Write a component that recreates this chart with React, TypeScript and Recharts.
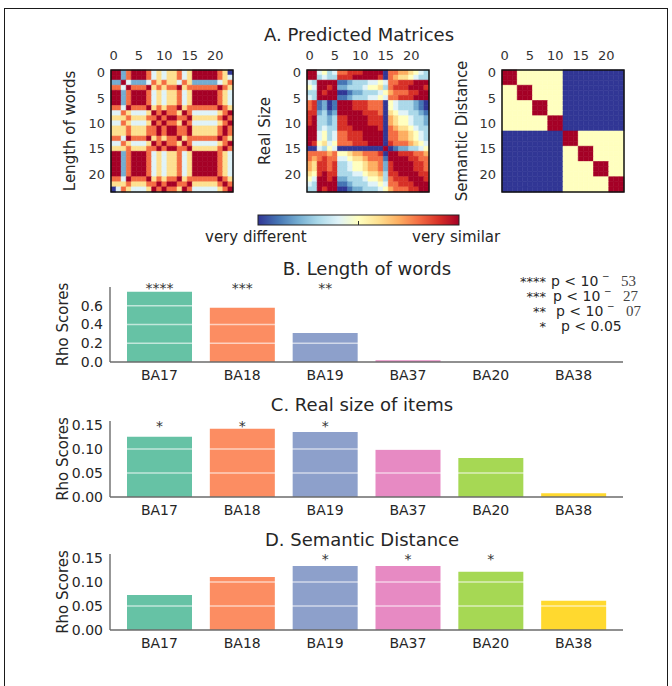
import React from "react";
import { BarChart, Bar, XAxis, YAxis, Cell, LabelList, ReferenceLine } from "recharts";

const FONT = "'DejaVu Sans', 'Liberation Sans', sans-serif";

// ---- bar panels ----
const regions = ["BA17", "BA18", "BA19", "BA37", "BA20", "BA38"];
const lengthScores = [0.75, 0.58, 0.31, 0.018, 0, 0];
const sizeScores = [0.125, 0.142, 0.135, 0.098, 0.081, 0.008];
const semanticScores = [0.073, 0.11, 0.133, 0.133, 0.121, 0.061];
const lengthStars = ["****", "***", "**", "", "", ""];
const sizeStars = ["*", "*", "*", "", "", ""];
const semanticStars = ["", "", "*", "*", "*", ""];
const barColors = ["#66c2a5", "#fc8d62", "#8da0cb", "#e78ac3", "#a6d854", "#ffd92f"];
const lengthTicks = [0, 0.2, 0.4, 0.6];
const smallTicks = [0, 0.05, 0.1, 0.15];

const legendRows = [
  { stars: "****", text: "p < 10", exp: "53" },
  { stars: "***", text: "p < 10", exp: "27" },
  { stars: "**", text: "p < 10", exp: "07" },
  { stars: "*", text: "p < 0.05", exp: "" },
];

// ---- matrices: one char per cell, colour level 0 (very different) .. a (very similar) ----
const matrixTicks = [0, 5, 10, 15, 20];
const levelColors = [
  "#313695", "#4575b4", "#74add1", "#abd9e9", "#e0f3f8", "#ffffbf",
  "#fee090", "#fdae61", "#f46d43", "#d73027", "#a50026",
];

const lengthMatrix = [
  "aa28aaa846466846aaaaa860",
  "aa28aaa846466846aaaaa864",
  "22a422248686648622222468",
  "884a888a68688a6888888a86",
  "aa28aaa846466846aaaaa864",
  "aa28aaa846466846aaaaa864",
  "aa28aaa846466846aaaaa864",
  "884a888a68688a6888888a86",
  "44864446a8a886a84444468a",
  "666866688a8aa88a666668a8",
  "44864446a8a886a84444468a",
  "666866688a8aa88a666668a8",
  "666866688a8aa88a666668a8",
  "884a888a68688a6888888a86",
  "44864446a8a886a84444468a",
  "666866688a8aa88a666668a8",
  "aa28aaa846466846aaaaa864",
  "aa28aaa846466846aaaaa864",
  "aa28aaa846466846aaaaa864",
  "aa28aaa846466846aaaaa864",
  "aa28aaa846466846aaaaa864",
  "884a888a68688a6888888a86",
  "666866688a8aa88a666668a8",
  "04864446a8a886a84444468a",
];

const sizeMatrix = [
  "aa453488999aaaa088776543",
  "aa3433999aaaaa9087665433",
  "43aaaa112333445488999aaa",
  "54aa9a22333455638999aaa9",
  "33a9aa0012233345788899aa",
  "43aaaa112333445488999aaa",
  "891201aaa999888054333210",
  "891201aaa999888054333210",
  "992312aaaaa9998065443321",
  "9a332399aaaa999076554332",
  "9a332399aaaa999076554332",
  "aa3433999aaaaa9087665433",
  "aa453488999aaaa088776543",
  "aa453488999aaaa088776543",
  "a95645888999aaa098887654",
  "004354000000000a01223345",
  "8888785567788890aa999887",
  "8789884456678881aaaa9988",
  "76998933455677829aaaa998",
  "76998933455677829aaaa998",
  "659a99333445667399aaaa99",
  "54aa9a22333455638999aaa9",
  "43aaaa112333445488999aaa",
  "33a9aa0012233345788899aa",
];

const semanticMatrix = [
  "aaa555555555000000000000",
  "aaa555555555000000000000",
  "aaa555555555000000000000",
  "555aaa555555000000000000",
  "555aaa555555000000000000",
  "555aaa555555000000000000",
  "555555aaa555000000000000",
  "555555aaa555000000000000",
  "555555aaa555000000000000",
  "555555555aaa000000000000",
  "555555555aaa000000000000",
  "555555555aaa000000000000",
  "000000000000aaa555555555",
  "000000000000aaa555555555",
  "000000000000aaa555555555",
  "000000000000555aaa555555",
  "000000000000555aaa555555",
  "000000000000555aaa555555",
  "000000000000555555aaa555",
  "000000000000555555aaa555",
  "000000000000555555aaa555",
  "000000000000555555555aaa",
  "000000000000555555555aaa",
  "000000000000555555555aaa",
];

const BOX = 122;
const TOPAX = 26;
const LEFTAX = 40;

function Heatmap({ rows, x, y }: { rows: string[]; x: number; y: number }) {
  const n = rows.length;
  const data = rows[0].split("").map((_, col) => {
    const d: any = { col };
    rows.forEach((_, r) => (d["r" + r] = 1));
    return d;
  });
  const tick = { fontSize: 13, fill: "#333", fontFamily: FONT };
  return (
    <div style={{ position: "absolute", left: x - LEFTAX, top: y - TOPAX }}>
      <BarChart
        width={LEFTAX + BOX + 4}
        height={TOPAX + BOX + 4}
        data={data}
        margin={{ top: 0, right: 4, bottom: 4, left: 0 }}
        barCategoryGap={0}
        barGap={0}
      >
        <XAxis
          dataKey="col"
          orientation="top"
          height={TOPAX}
          interval={0}
          tickLine={false}
          axisLine={false}
          tickSize={0}
          tickMargin={10}
          tick={tick}
          tickFormatter={(v: number) => (v % 5 === 0 ? String(v) : "")}
        />
        <YAxis
          type="number"
          domain={[0, n]}
          reversed
          interval={0}
          ticks={matrixTicks.map((t) => t + 0.5)}
          tickFormatter={(v: number) => String(v - 0.5)}
          width={LEFTAX}
          tickLine={false}
          axisLine={false}
          tickSize={0}
          tickMargin={6}
          tick={tick}
        />
        {rows.map((row, r) => (
          <Bar key={r} dataKey={"r" + r} stackId="m" isAnimationActive={false}>
            {data.map((_, c) => {
              const col = levelColors[parseInt(row[c], 16)];
              return <Cell key={c} fill={col} stroke={col} strokeWidth={0.6} />;
            })}
          </Bar>
        ))}
      </BarChart>
    </div>
  );
}

const PLOT_TOP = 37;

function ScoreChart(props: {
  top: number;
  plotH: number;
  values: number[];
  stars: string[];
  domain: [number, number];
  ticks: number[];
  digits: number;
  whiteLines: number[];
  starDy: number;
}) {
  const data = regions.map((name, i) => ({ name, value: props.values[i], stars: props.stars[i] }));
  const tick = { fontSize: 14, fill: "#262626", fontFamily: FONT };
  const axis = { stroke: "#6b6b6b", strokeWidth: 1.4 };
  return (
    <div style={{ position: "absolute", left: 0, top: props.top - PLOT_TOP }}>
      <BarChart
        width={672}
        height={PLOT_TOP + props.plotH + 30}
        data={data}
        margin={{ top: PLOT_TOP, right: 49, bottom: 0, left: 0 }}
      >
        <XAxis
          dataKey="name"
          interval={0}
          padding={{ left: 8, right: 8 }}
          height={30}
          tickLine={false}
          tickSize={6}
          tickMargin={2}
          axisLine={axis}
          tick={tick}
        />
        <YAxis
          type="number"
          domain={props.domain}
          ticks={props.ticks}
          interval={0}
          tickFormatter={(v: number) => v.toFixed(props.digits)}
          width={110}
          tickLine={false}
          tickSize={5}
          tickMargin={2}
          axisLine={axis}
          tick={tick}
        />
        <Bar dataKey="value" barSize={65} isAnimationActive={false}>
          {data.map((_, i) => (
            <Cell key={i} fill={barColors[i]} />
          ))}
          <LabelList
            dataKey="stars"
            content={(p: any) =>
              p.value ? (
                <text
                  x={Number(p.x) + Number(p.width) / 2}
                  y={PLOT_TOP + props.starDy}
                  textAnchor="middle"
                  fontSize={14}
                  fill="#333"
                  fontFamily={FONT}
                >
                  {p.value}
                </text>
              ) : null
            }
          />
        </Bar>
        {props.whiteLines.map((v) => (
          <ReferenceLine key={v} y={v} stroke="#ffffff" strokeOpacity={0.6} strokeWidth={1.5} />
        ))}
      </BarChart>
    </div>
  );
}

const heatBoxes = [
  { x: 111, y: 70, label: "Length of words", lx: 75 },
  { x: 307, y: 70, label: "Real Size", lx: 270 },
  { x: 502, y: 70, label: "Semantic Distance", lx: 467 },
];

export default function App() {
  const txt = { fontFamily: FONT, fill: "#262626" } as const;
  const legendX = [551, 553, 556, 561];
  const legendY = [286, 301, 316, 331];
  return (
    <div style={{ position: "relative", width: 672, height: 686, background: "#fff", overflow: "hidden" }}>
      <style>{"body{margin:0}"}</style>
      <div
        style={{
          position: "absolute",
          left: 4,
          top: 8,
          width: 664,
          height: 700,
          border: "1.5px solid #1a1a1a",
          boxSizing: "border-box",
        }}
      />
      <Heatmap rows={lengthMatrix} x={heatBoxes[0].x} y={heatBoxes[0].y} />
      <Heatmap rows={sizeMatrix} x={heatBoxes[1].x} y={heatBoxes[1].y} />
      <Heatmap rows={semanticMatrix} x={heatBoxes[2].x} y={heatBoxes[2].y} />

      <ScoreChart top={287} plotH={75} values={lengthScores} stars={lengthStars} domain={[0, 0.8]}
        ticks={lengthTicks} digits={1} whiteLines={[0.2, 0.4, 0.6]} starDy={6} />
      <ScoreChart top={421} plotH={76} values={sizeScores} stars={sizeStars} domain={[0, 0.158]}
        ticks={smallTicks} digits={2} whiteLines={[0.05, 0.1]} starDy={10} />
      <ScoreChart top={554} plotH={76} values={semanticScores} stars={semanticStars} domain={[0, 0.158]}
        ticks={smallTicks} digits={2} whiteLines={[0.05, 0.1]} starDy={10} />

      <svg width={672} height={686} style={{ position: "absolute", left: 0, top: 0, pointerEvents: "none" }}>
        <defs>
          <linearGradient id="cbar" x1="0" x2="1" y1="0" y2="0">
            {levelColors.map((c, i) => (
              <stop key={i} offset={i / (levelColors.length - 1)} stopColor={c} />
            ))}
          </linearGradient>
        </defs>
        <text x={359} y={41} textAnchor="middle" fontSize={18} {...txt}>A. Predicted Matrices</text>
        {heatBoxes.map((b) => (
          <g key={b.label}>
            <rect x={b.x} y={b.y} width={BOX} height={BOX} fill="none" stroke="#111" strokeWidth={1.5} />
            <text
              transform={`translate(${b.lx},${b.y + BOX / 2}) rotate(-90)`}
              textAnchor="middle"
              fontSize={15}
              {...txt}
            >
              {b.label}
            </text>
          </g>
        ))}
        <rect x={258} y={215} width={201} height={10} fill="url(#cbar)" stroke="#222" strokeWidth={1} />
        <line x1={358.5} x2={358.5} y1={221} y2={225} stroke="#333" strokeWidth={1} />
        <text x={205} y={242} fontSize={15} {...txt}>very different</text>
        <text x={412} y={242} fontSize={15} {...txt}>very similar</text>

        <text x={367} y={275} textAnchor="middle" fontSize={18} {...txt}>B. Length of words</text>
        <text x={362} y={411} textAnchor="middle" fontSize={18} {...txt}>C. Real size of items</text>
        <text x={362} y={546} textAnchor="middle" fontSize={18} {...txt}>D. Semantic Distance</text>

        {[324.5, 459, 592].map((cy) => (
          <text key={cy} transform={`translate(68,${cy}) rotate(-90)`} textAnchor="middle" fontSize={15} {...txt}>
            Rho Scores
          </text>
        ))}

        {legendRows.map((r, i) => (
          <text key={i} x={546 - r.stars.length * 6.5} y={legendY[i]} fontSize={13} {...txt}>
            {r.stars}
            <tspan x={legendX[i]} fontSize={14}>{r.text}</tspan>
            {r.exp && (
              <>
                <tspan x={legendX[i] + 51} dy={-7} fontSize={9}>−</tspan>
                <tspan x={legendX[i] + 70} dy={7} fontSize={15} fontFamily="'Liberation Serif', serif" fill="#444">
                  {r.exp}
                </tspan>
              </>
            )}
          </text>
        ))}
      </svg>
    </div>
  );
}
